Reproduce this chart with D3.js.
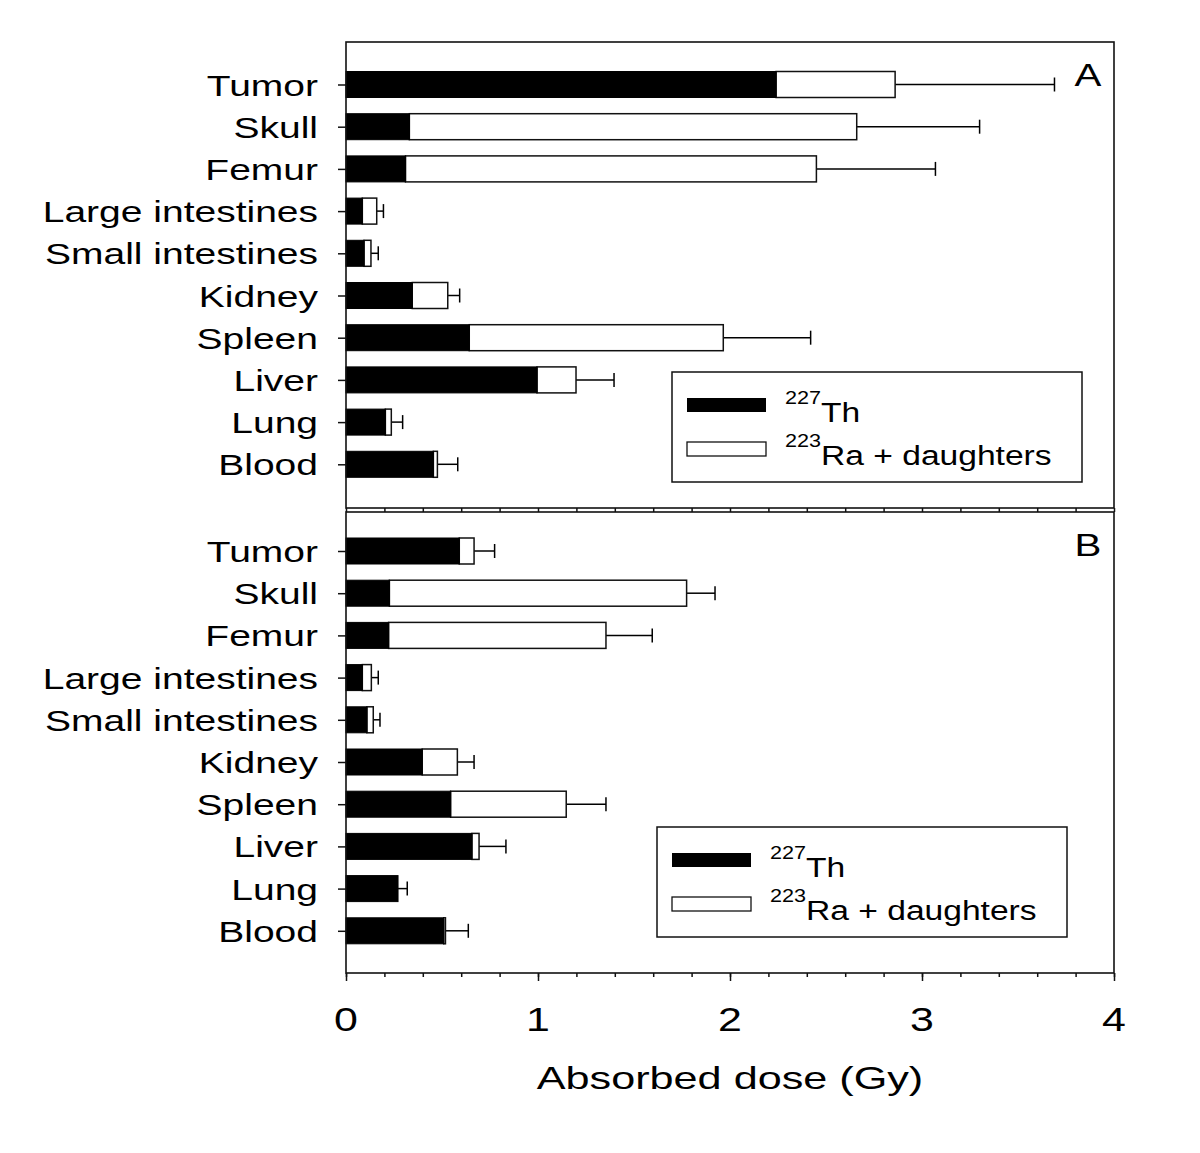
<!DOCTYPE html>
<html lang="en">
<head>
<meta charset="UTF-8">
<title>Absorbed dose</title>
<script src="https://cdn.jsdelivr.net/npm/d3@7"></script>
<style>
  body { margin: 0; background: #fff; }
  text { font-family: "Liberation Sans", Arial, sans-serif; fill: #000; }
</style>
</head>
<body>
<svg id="chart" width="1200" height="1153"></svg>
<script>
// organs, top to bottom
const organs = ["Tumor", "Skull", "Femur", "Large intestines", "Small intestines",
                "Kidney", "Spleen", "Liver", "Lung", "Blood"];

// panel A (Gy)
const thA  = [2.24, 0.33, 0.31, 0.085, 0.094, 0.345, 0.642, 0.995, 0.205, 0.455];
const raA  = [0.62, 2.33, 2.14, 0.075, 0.036, 0.185, 1.323, 0.203, 0.031, 0.021];
const sdA  = [0.83, 0.64, 0.62, 0.035, 0.038, 0.062, 0.455, 0.198, 0.059, 0.106];

// panel B (Gy)
const thB  = [0.59, 0.226, 0.222, 0.085, 0.109, 0.397, 0.545, 0.656, 0.271, 0.509];
const raB  = [0.077, 1.548, 1.132, 0.047, 0.033, 0.183, 0.602, 0.037, 0.0, 0.009];
const sdB  = [0.107, 0.148, 0.241, 0.036, 0.035, 0.087, 0.207, 0.14, 0.048, 0.119];

const majorTicks = [0, 1, 2, 3, 4];
const minorTicks = d3.range(0, 21).map(i => i * 0.2);
const legendLabels = [["227", "Th"], ["223", "Ra + daughters"]];

const svg = d3.select("#chart");
const stretch = 1.3;   // text in the original is wider than normal

const x = d3.scaleLinear().domain([0, 4]).range([346, 1114]);

const panels = [
  { id: "A", th: thA, ra: raA, sd: sdA, top: 42, bottom: 508, y0: 84.5, y1: 464.3, leg: [672, 372] },
  { id: "B", th: thB, ra: raB, sd: sdB, top: 512, bottom: 973, y0: 551, y1: 930.8, leg: [657, 827] }
];

function stext(g, str, tx, ty, size, anchor) {
  return g.append("text")
    .attr("transform", `translate(${tx},${ty}) scale(${stretch},1)`)
    .attr("text-anchor", anchor || "start")
    .style("font-size", size + "px")
    .text(str);
}

panels.forEach(p => {
  const g = svg.append("g");
  const y = d3.scalePoint().domain(organs).range([p.y0, p.y1]);
  const bh = 26;

  const rows = organs.map((o, i) => ({ organ: o, th: p.th[i], ra: p.ra[i], sd: p.sd[i] }));

  // error bars (behind)
  const eb = g.append("g").attr("stroke", "#000").attr("stroke-width", 1.5);
  eb.selectAll("line.h").data(rows).join("line")
    .attr("x1", d => x(d.th + d.ra)).attr("x2", d => x(d.th + d.ra + d.sd))
    .attr("y1", d => y(d.organ)).attr("y2", d => y(d.organ));
  eb.selectAll("line.c").data(rows).join("line").attr("class", "c")
    .attr("x1", d => x(d.th + d.ra + d.sd)).attr("x2", d => x(d.th + d.ra + d.sd))
    .attr("y1", d => y(d.organ) - 7).attr("y2", d => y(d.organ) + 7);

  // 223Ra + daughters (white)
  g.selectAll("rect.ra").data(rows).join("rect").attr("class", "ra")
    .attr("x", d => x(d.th)).attr("width", d => x(d.th + d.ra) - x(d.th))
    .attr("y", d => y(d.organ) - bh / 2).attr("height", bh)
    .attr("fill", "#fff").attr("stroke", "#111").attr("stroke-width", 1.5);

  // 227Th (black)
  g.selectAll("rect.th").data(rows).join("rect").attr("class", "th")
    .attr("x", x(0)).attr("width", d => x(d.th) - x(0))
    .attr("y", d => y(d.organ) - bh / 2).attr("height", bh)
    .attr("fill", "#000").attr("stroke", "#000").attr("stroke-width", 1);

  // frame
  g.append("rect")
    .attr("x", x(0)).attr("y", p.top)
    .attr("width", x(4) - x(0)).attr("height", p.bottom - p.top)
    .attr("fill", "none").attr("stroke", "#111").attr("stroke-width", 1.6);

  // y ticks + organ labels
  const yAxis = g.append("g").attr("transform", `translate(${x(0)},0)`)
    .call(d3.axisLeft(y).tickSize(8).tickFormat(""));
  yAxis.select(".domain").remove();
  yAxis.selectAll("line").attr("stroke", "#111").attr("stroke-width", 1.5);
  organs.forEach(o => stext(g, o, 318, y(o) + 11, 30, "end"));

  // bottom ticks
  const minorAxis = g.append("g").attr("transform", `translate(0,${p.bottom})`)
    .call(d3.axisBottom(x).tickValues(minorTicks).tickSize(4).tickFormat(""));
  minorAxis.select(".domain").remove();
  minorAxis.selectAll("line").attr("stroke", "#111").attr("stroke-width", 1.5);
  if (p.id === "B") {
    const majorAxis = g.append("g").attr("transform", `translate(0,${p.bottom})`)
      .call(d3.axisBottom(x).tickValues(majorTicks).tickSize(8).tickFormat(""));
    majorAxis.select(".domain").remove();
    majorAxis.selectAll("line").attr("stroke", "#111").attr("stroke-width", 1.5);
    majorTicks.forEach(t => stext(g, String(t), x(t), 1031, 33, "middle"));
  }

  // panel letter
  stext(g, p.id, 1088, p.top + 44, 31, "middle");

  // legend
  const [lx, ly] = p.leg;
  const lg = g.append("g");
  lg.append("rect").attr("x", lx).attr("y", ly).attr("width", 410).attr("height", 110)
    .attr("fill", "#fff").attr("stroke", "#111").attr("stroke-width", 1.5);
  lg.append("rect").attr("x", lx + 15).attr("y", ly + 26).attr("width", 79).attr("height", 14)
    .attr("fill", "#000");
  lg.append("rect").attr("x", lx + 15).attr("y", ly + 70).attr("width", 79).attr("height", 14)
    .attr("fill", "#fff").attr("stroke", "#111").attr("stroke-width", 1.3);
  legendLabels.forEach((lab, i) => {
    const base = ly + 50 + i * 43;
    const t = lg.append("text")
      .attr("transform", `translate(${lx + 113},${base}) scale(1.2,1)`)
      .style("font-size", "28px");
    t.append("tspan").attr("dy", -18).style("font-size", "18px").text(lab[0]);
    t.append("tspan").attr("dy", 18).text(lab[1]);
  });
});

// x title
svg.append("text")
  .attr("transform", `translate(${(x(0) + x(4)) / 2},1089) scale(1.35,1)`)
  .attr("text-anchor", "middle")
  .style("font-size", "32px")
  .text("Absorbed dose (Gy)");
</script>
</body>
</html>
